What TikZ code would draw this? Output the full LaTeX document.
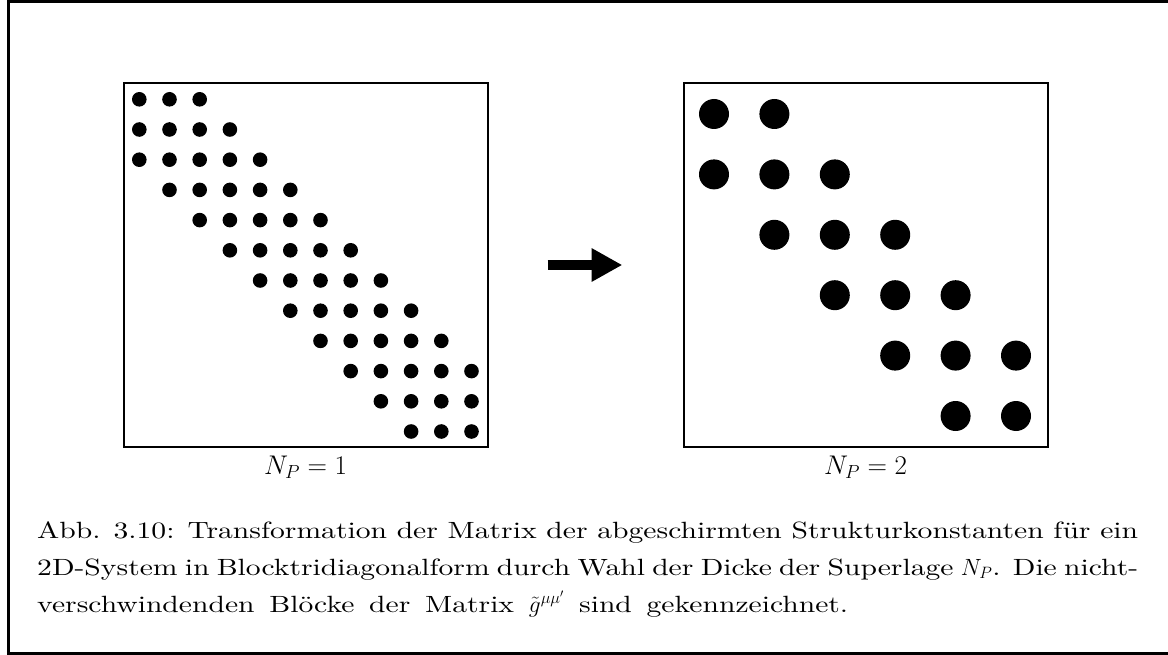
\RequirePackage{fix-cm}
\documentclass[tikz,border=0pt]{standalone}
\usepackage{fontspec}
\newfontfamily\capwide{lmroman10-regular.otf}[FakeStretch=1.26]
\usetikzlibrary{arrows.meta}
\begin{document}
\begin{tikzpicture}[x=1pt,y=-1pt,
  frame/.style={line width=3pt},
  matbox/.style={draw,line width=2pt,minimum width=364pt,minimum height=363pt,inner sep=0pt},
  smalldot/.style={fill=black},
  labfont/.style={font=\fontsize{27}{32}\selectfont},
  capfont/.style={font=\fontsize{23.5}{37}\capwide}]
\useasboundingbox (0,0) rectangle (1168,655);
% outer frame (right side lies outside the picture)
\coordinate (f1) at (1175,1.2);
\coordinate (f2) at (8,1.2);
\coordinate (f3) at (8,653);
\coordinate (f4) at (1175,653);
\draw[frame] (f1) -- (f2) -- (f3) -- (f4);
% matrix boxes
\node[matbox] (L) at (305.5,265) {};
\node[matbox] (R) at (865.5,265) {};
% N_P = 1 dots
\foreach \i in {0,...,11}{
  \pgfmathtruncatemacro{\a}{max(0,\i-2)}
  \pgfmathtruncatemacro{\b}{min(11,\i+2)}
  \foreach \j in {\a,...,\b}{
    \fill[smalldot] (139.3+30.2*\j,99.3+30.2*\i) circle (7.3);
  }
}
% N_P = 2 dots
\foreach \i in {0,...,5}{
  \pgfmathtruncatemacro{\a}{max(0,\i-1)}
  \pgfmathtruncatemacro{\b}{min(5,\i+1)}
  \foreach \j in {\a,...,\b}{
    \fill[smalldot] (714+60.4*\j,114+60.4*\i) circle (15);
  }
}
% arrow
\coordinate (a1) at (547.7,265);
\coordinate (a2) at (622.3,265);
\draw[line width=10pt,-{Triangle[length=30.6pt,width=31.4pt]}] (a1) -- (a2);
% labels
\node[labfont,anchor=base,inner sep=0pt] (l1) at (305.5,474) {$N_P=1$};
\node[labfont,anchor=base,inner sep=0pt] (l2) at (865.5,474) {$N_P=2$};
% caption
\node[capfont,anchor=base west,inner sep=0pt] (c1) at (37,538) {\makebox[1101pt][s]{Abb. 3.10: Transformation der Matrix der abgeschirmten Strukturkonstanten für ein}};
\node[capfont,anchor=base west,inner sep=0pt] (c2) at (37,575) {\makebox[1101pt][s]{2D-System in Blocktridiagonalform durch Wahl der Dicke der Superlage $N_P$. Die nicht-}};
\node[capfont,anchor=base west,inner sep=0pt] (c3) at (37,612) {\makebox[811pt][s]{verschwindenden Blöcke der Matrix $\tilde g^{\mu\mu'}$ sind gekennzeichnet.}};
\end{tikzpicture}
\end{document}
